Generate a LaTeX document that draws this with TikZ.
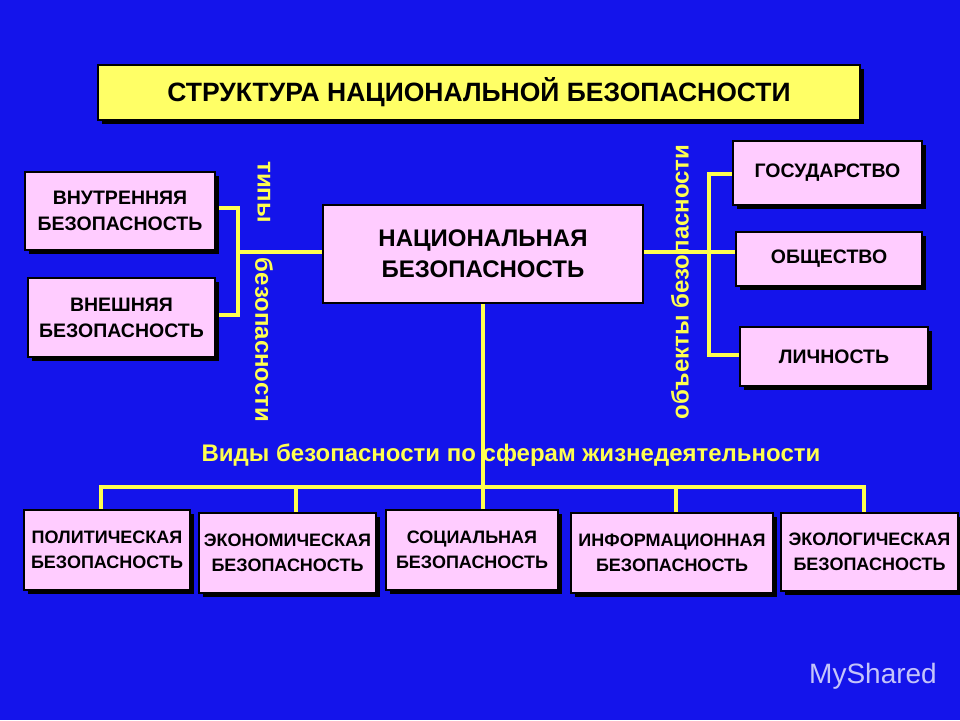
\documentclass[tikz,border=0pt]{standalone}
\usepackage{fontspec}
\setmainfont{Liberation Sans}
\begin{document}
\begin{tikzpicture}[x=1pt,y=-1pt,
  bx/.style={draw=black,line width=1.5pt,fill=boxpink,align=center,font=\bfseries\fontsize{19.5}{26}\selectfont,inner sep=0pt},
  bxs/.style={bx,font=\bfseries\fontsize{18}{25}\selectfont},
  yl/.style={draw=lineyel,line width=4pt},
  lbl/.style={text=lineyel,font=\bfseries\fontsize{24}{28}\selectfont}]
\definecolor{bgblue}{RGB}{20,20,235}
\definecolor{boxpink}{RGB}{255,204,255}
\definecolor{lineyel}{RGB}{255,255,80}
\definecolor{titley}{RGB}{255,255,102}
\fill[bgblue] (0,0) rectangle (960,720);
\useasboundingbox (0,0) rectangle (960,720);
\newcommand\bbox[7]{%
 \fill[black] (#3+4,#4+4) rectangle (#5+4,#6+4);
 \node[#1,minimum width=#5-#3,minimum height=#6-#4] (#2) at ({(#3+#5)/2},{(#4+#6)/2}) {#7};}
% lines
\draw[yl] (215,208) -- (238,208) -- (238,315) -- (215,315);
\draw[yl] (238,252) -- (323,252);
\draw[yl] (643,252) -- (735,252);
\draw[yl] (735,174) -- (709,174) -- (709,355) -- (740,355);
\draw[yl] (483,303) -- (483,510);
\draw[yl] (101,510) -- (101,487) -- (864,487) -- (864,513);
\draw[yl] (296,487) -- (296,513);
\draw[yl] (676,487) -- (676,513);
% title
\fill[black] (102,69) rectangle (864,124);
\node[draw=black,line width=1.5pt,fill=titley,minimum width=762pt,minimum height=55pt,inner sep=0pt,font=\bfseries\fontsize{26.5}{30}\selectfont] (title) at (479,92.5) {СТРУКТУРА НАЦИОНАЛЬНОЙ БЕЗОПАСНОСТИ};
\bbox{bx}{vn}{25}{172}{215}{250}{ВНУТРЕННЯЯ\\БЕЗОПАСНОСТЬ}
\bbox{bx}{ve}{28}{278}{215}{357}{ВНЕШНЯЯ\\БЕЗОПАСНОСТЬ}
\node[draw=black,line width=1.5pt,fill=boxpink,minimum width=320pt,minimum height=98pt,inner sep=0pt,align=center,font=\bfseries\fontsize{24}{31}\selectfont] (nat) at (483,254) {НАЦИОНАЛЬНАЯ\\БЕЗОПАСНОСТЬ};
\bbox{bx}{gos}{733}{141}{922}{205}{ГОСУДАРСТВО}
\bbox{bx}{obs}{736}{232}{922}{286}{ОБЩЕСТВО}
\bbox{bx}{lic}{740}{327}{928}{386}{ЛИЧНОСТЬ}
\bbox{bxs}{pol}{24}{510}{190}{590}{ПОЛИТИЧЕСКАЯ\\БЕЗОПАСНОСТЬ}
\bbox{bxs}{eco}{199}{513}{376}{593}{ЭКОНОМИЧЕСКАЯ\\БЕЗОПАСНОСТЬ}
\bbox{bxs}{soc}{386}{510}{558}{590}{СОЦИАЛЬНАЯ\\БЕЗОПАСНОСТЬ}
\bbox{bxs}{inf}{571}{513}{773}{593}{ИНФОРМАЦИОННАЯ\\БЕЗОПАСНОСТЬ}
\bbox{bxs}{ekl}{781}{513}{958}{591}{ЭКОЛОГИЧЕСКАЯ\\БЕЗОПАСНОСТЬ}
% labels
\node[lbl,rotate=-90] (t1) at (264,192) {типы};
\node[lbl,rotate=-90] (t2) at (264,340) {безопасности};
\node[lbl,rotate=90] (t3) at (680,282) {объекты безопасности};
\node[lbl] (t4) at (511,455) {Виды безопасности по сферам жизнедеятельности};
\node[text=white!75!bgblue,font=\fontsize{28}{32}\selectfont] (wm) at (873,676) {MyShared};
\end{tikzpicture}
\end{document}
